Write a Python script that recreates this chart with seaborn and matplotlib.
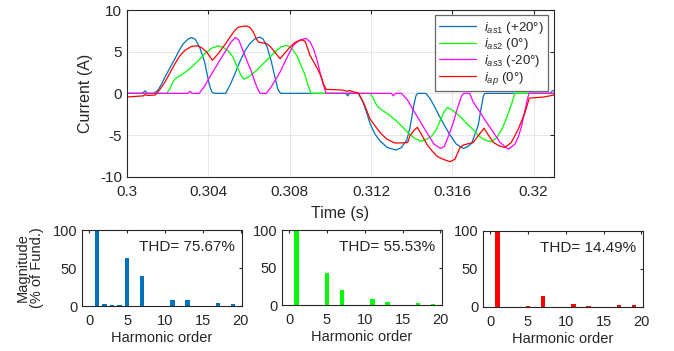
import numpy as np
import pandas as pd
import matplotlib
matplotlib.use("Agg")
import matplotlib.pyplot as plt
from matplotlib.ticker import FuncFormatter
import seaborn as sns

sns.set_theme(style="white")
plt.rcParams['font.family'] = ['Liberation Sans', 'DejaVu Sans']
plt.rcParams['mathtext.fontset'] = 'custom'
plt.rcParams['mathtext.rm'] = 'Liberation Sans'
plt.rcParams['mathtext.it'] = 'Liberation Sans:italic'
plt.rcParams['axes.unicode_minus'] = False

# ---------------- data: time offsets in ms from 0.3 s ----------------
t_as1 = [0, 0.75, 0.89, 1.0, 1.3, 1.5, 1.7, 1.87, 2.1, 2.36, 2.6, 2.77, 3.0, 3.18, 3.35, 3.57, 3.82,
         4.02, 4.12, 4.2, 4.3, 4.85, 5.07, 5.3, 5.55, 5.8, 6.05, 6.3, 6.53, 6.7, 6.9, 7.1, 7.3, 7.42,
         7.52, 7.6, 10.75, 10.86, 10.95, 11.38, 11.6, 11.8, 11.95, 12.2, 12.44, 12.8, 13.23, 13.5,
         13.76, 13.9, 14.0, 14.1, 14.21, 14.3, 14.7, 14.9, 15.15, 15.4, 15.65, 15.89, 16.2, 16.54,
         16.75, 16.95, 17.1, 17.28, 17.4, 17.53, 17.6, 20.8, 20.92, 21.0]
i_as1 = [0, 0, 0.3, 0, 0, 0.3, 1.1, 1.96, 3.0, 4.16, 5.3, 5.96, 6.5, 6.7, 6.5, 5.56, 3.76,
         1.36, 0.5, 0.1, 0, 0, 1.0, 2.3, 3.8, 5.1, 6.0, 6.55, 6.75, 6.5, 5.5, 3.8, 1.7, 0.5,
         0.1, 0, 0, -0.3, 0, 0, -1.0, -2.4, -3.6, -4.9, -5.7, -6.5, -6.8, -6.5,
         -5.6, -4.3, -3.0, -1.5, -0.3, 0, 0, -0.6, -1.7, -2.9, -4.0, -5.0, -6.1, -6.6,
         -6.4, -6.0, -5.0, -3.8, -2.0, -0.3, 0, 0, 0.3, 0.3]

t_as2 = [0, 1.95, 2.1, 2.25, 2.36, 2.6, 2.9, 3.18, 3.5, 3.84, 4.15, 4.49, 4.75, 4.98, 5.2, 5.4, 5.6,
         5.75, 6.0, 6.35, 6.7, 7.05, 7.36, 7.6, 7.86, 8.1, 8.35, 8.55, 8.76, 8.9, 9.05, 11.95, 12.1,
         12.25, 12.4, 12.6, 12.9, 13.2, 13.5, 13.85, 14.15, 14.45, 14.75, 15.0, 15.2, 15.4, 15.6,
         15.75, 16.0, 16.35, 16.7, 17.05, 17.35, 17.6, 17.9, 18.15, 18.4, 18.6, 18.8, 18.95, 19.08, 21.0]
i_as2 = [0, 0, 0.5, 1.3, 1.76, 2.1, 2.6, 3.16, 3.9, 4.76, 5.4, 5.7, 5.5, 5.1, 4.4, 3.3, 2.2,
         1.7, 2.0, 2.7, 3.56, 4.4, 5.16, 5.6, 5.76, 5.4, 4.56, 3.4, 2.16, 1.0, 0, 0, -0.5,
         -1.3, -1.76, -2.1, -2.6, -3.2, -3.9, -4.8, -5.4, -5.75, -5.5, -5.1, -4.4, -3.3, -2.2,
         -1.7, -2.0, -2.7, -3.6, -4.4, -5.2, -5.6, -5.8, -5.4, -4.5, -3.4, -2.1, -1.0, 0, 0]

t_as3 = [0, 3.0, 3.1, 3.2, 3.55, 3.8, 4.17, 4.5, 4.82, 5.1, 5.33, 5.5, 5.72, 5.95, 6.13, 6.3, 6.46,
         6.55, 6.85, 7.1, 7.3, 7.53, 7.85, 8.18, 8.5, 8.8, 9.0, 9.17, 9.35, 9.49, 9.65, 9.79, 13.0,
         13.1, 13.2, 13.5, 13.8, 14.17, 14.5, 14.82, 15.1, 15.42, 15.6, 15.8, 16.05, 16.25, 16.46,
         16.55, 16.85, 17.03, 17.35, 17.69, 18.0, 18.35, 18.76, 19.08, 19.25, 19.41, 19.55, 19.66,
         19.77, 21.0]
i_as3 = [0, 0, 0.25, 0, 0, 0.8, 2.36, 3.7, 4.96, 6.1, 6.7, 6.4, 5.0, 3.6, 2.56, 1.3, 0.36,
         0, 0, 0.8, 1.6, 2.56, 4.2, 5.76, 6.4, 6.6, 6.2, 5.36, 4.0, 2.56, 1.1, 0, 0,
         -0.3, 0, 0, -0.8, -2.36, -3.7, -5.0, -6.1, -6.6, -6.4, -5.2, -3.5, -1.8, -0.3,
         0, 0, -1.05, -2.2, -3.5, -4.6, -5.9, -6.7, -6.1, -5.2, -3.9, -2.3, -1.05,
         0, 0]

t_ap = [0, 0.8, 0.89, 1.0, 1.38, 1.6, 1.87, 2.1, 2.36, 2.6, 2.85, 3.18, 3.45, 3.66, 3.92, 4.2, 4.5,
        4.82, 5.07, 5.31, 5.45, 5.7, 5.89, 6.05, 6.21, 6.35, 6.46, 6.87, 7.05, 7.2, 7.53, 7.75, 8.02,
        8.25, 8.51, 8.65, 8.77, 9.0, 9.2, 9.41, 9.55, 9.66, 9.79, 10.6, 10.85, 10.95, 11.05, 11.38,
        11.65, 11.95, 12.2, 12.44, 12.77, 13.18, 13.5, 13.8, 13.92, 14.1, 14.28, 14.5, 14.74, 15.0,
        15.23, 15.4, 15.65, 15.89, 16.13, 16.38, 16.54, 17.03, 17.3, 17.56, 17.8, 18.02, 18.3, 18.59,
        18.9, 19.25, 19.58, 19.79, 20.5, 21.0]
i_ap = [-0.44, -0.3, -0.16, -0.25, -0.2, 0.4, 1.36, 2.4, 3.56, 4.5, 5.16, 5.64, 5.7, 5.5, 4.96, 3.96, 4.8,
        5.85, 6.76, 7.56, 7.9, 8.05, 8.08, 7.9, 7.36, 6.6, 6.16, 5.96, 5.6, 5.16, 4.16, 4.8, 5.56,
        6.1, 6.36, 6.4, 6.2, 4.56, 3.7, 2.76, 2.0, 1.16, 0.48, 0.4, 0.24, 0.35, 0.24, 0.05,
        -1.2, -3.06, -3.9, -4.68, -5.48, -5.96, -5.95, -5.9, -5.08, -4.5, -4.07, -5.0, -6.08, -6.9,
        -7.5, -7.75, -8.0, -8.2, -7.9, -6.49, -6.2, -5.89, -5.0, -4.19, -5.1, -5.89, -6.3, -6.49,
        -5.9, -4.27, -2.26, -0.57, -0.44, -0.2]

series_labels = [r'$i_{as1}$ (+20°)', r'$i_{as2}$ (0°)', r'$i_{as3}$ (-20°)', r'$i_{ap}$ (0°)']
series_colors = ['#0072BD', '#00FF00', '#FF00FF', '#FF0000']

harm_order = [1, 2, 3, 4, 5, 7, 11, 13, 17, 19]
mag_as1 = [100, 2, 1.5, 1.5, 63, 39, 8, 8, 4, 3]
mag_as2 = [100, 0.5, 0, 0, 43, 20, 8, 4, 3, 2]
mag_ap = [100, 0, 0.5, 0, 1.5, 15, 4, 1, 3, 2]
thd_labels = ['THD= 75.67%', 'THD= 55.53%', 'THD= 14.49%']
bar_colors = ['#0072BD', '#00FF00', '#FF0000']

x_ticks = [0.3, 0.304, 0.308, 0.312, 0.316, 0.32]
y_ticks = [-10, -5, 0, 5, 10]

# ---------------- figure ----------------
fig = plt.figure(figsize=(6.74, 3.51), dpi=100)
ax = fig.add_axes([0.1884, 0.4966, 0.6335, 0.4749])

for tt, ii, lab, col in zip([t_as1, t_as2, t_as3, t_ap], [i_as1, i_as2, i_as3, i_ap],
                            series_labels, series_colors):
    df = pd.DataFrame({'t': 0.3 + np.array(tt) / 1000.0, 'i': ii})
    sns.lineplot(data=df, x='t', y='i', ax=ax, color=col, lw=0.9, label=lab,
                 sort=False, estimator=None)

ax.set_xlim(0.3, 0.321)
ax.set_ylim(-10, 10)
ax.set_xticks(x_ticks)
ax.set_yticks(y_ticks)
ax.xaxis.set_major_formatter(FuncFormatter(lambda v, p: '%g' % round(v, 4)))
ax.grid(True, color='#E3E3E3', lw=0.6)
ax.set_axisbelow(True)
ax.tick_params(axis='x', pad=6)
ax.tick_params(direction='in', length=3, width=0.8, top=True, right=True,
               labelsize=11, colors='#262626')
for s in ax.spines.values():
    s.set_color('#262626')
    s.set_linewidth(0.8)
ax.set_xlabel('Time (s)', fontsize=11.5, color='#262626', labelpad=5)
ax.set_ylabel('Current (A)', fontsize=11.5, color='#262626', labelpad=5)
leg = ax.legend(loc='upper right', bbox_to_anchor=(0.987, 0.97), borderaxespad=0,
                fontsize=9.5, frameon=True, fancybox=False, edgecolor='#404040',
                handlelength=2.8, handletextpad=0.6, labelspacing=0.05, borderpad=0.35)
leg.get_frame().set_linewidth(0.9)

bar_pos = [[0.1217, 0.1282, 0.2374, 0.2165],
           [0.4184, 0.1310, 0.2374, 0.2137],
           [0.7166, 0.1254, 0.2374, 0.2165]]
for k, (pos, mags, col, thd) in enumerate(zip(bar_pos, [mag_as1, mag_as2, mag_ap],
                                                bar_colors, thd_labels)):
    bx = fig.add_axes(pos)
    sns.barplot(x=harm_order, y=mags, native_scale=True, width=0.6, color=col,
                saturation=1, ax=bx, linewidth=0)
    bx.set_xlim(-0.95, 20.2)
    bx.set_ylim(0, 100)
    bx.set_xticks([0, 5, 10, 15, 20])
    bx.set_xticklabels(['0', '5', '10', '15', '20'])
    bx.set_yticks([0, 50, 100])
    bx.tick_params(axis='x', pad=6)
    bx.tick_params(direction='in', length=2.5, width=0.8, top=True, right=True,
                   labelsize=10.5, colors='#262626')
    for s in bx.spines.values():
        s.set_color('#262626')
        s.set_linewidth(0.8)
    bx.set_xlabel('Harmonic order', fontsize=10.5, color='#262626', labelpad=2)
    bx.set_ylabel('')
    bx.text(0.355, 0.78, thd, transform=bx.transAxes, fontsize=11, color='#262626',
            ha='left', va='center')
    if k == 0:
        bx.set_ylabel('Magnitude\n(% of Fund.)', fontsize=10.5, color='#262626',
                      labelpad=6, linespacing=1.05)

fig.savefig('out.png', dpi=100)
